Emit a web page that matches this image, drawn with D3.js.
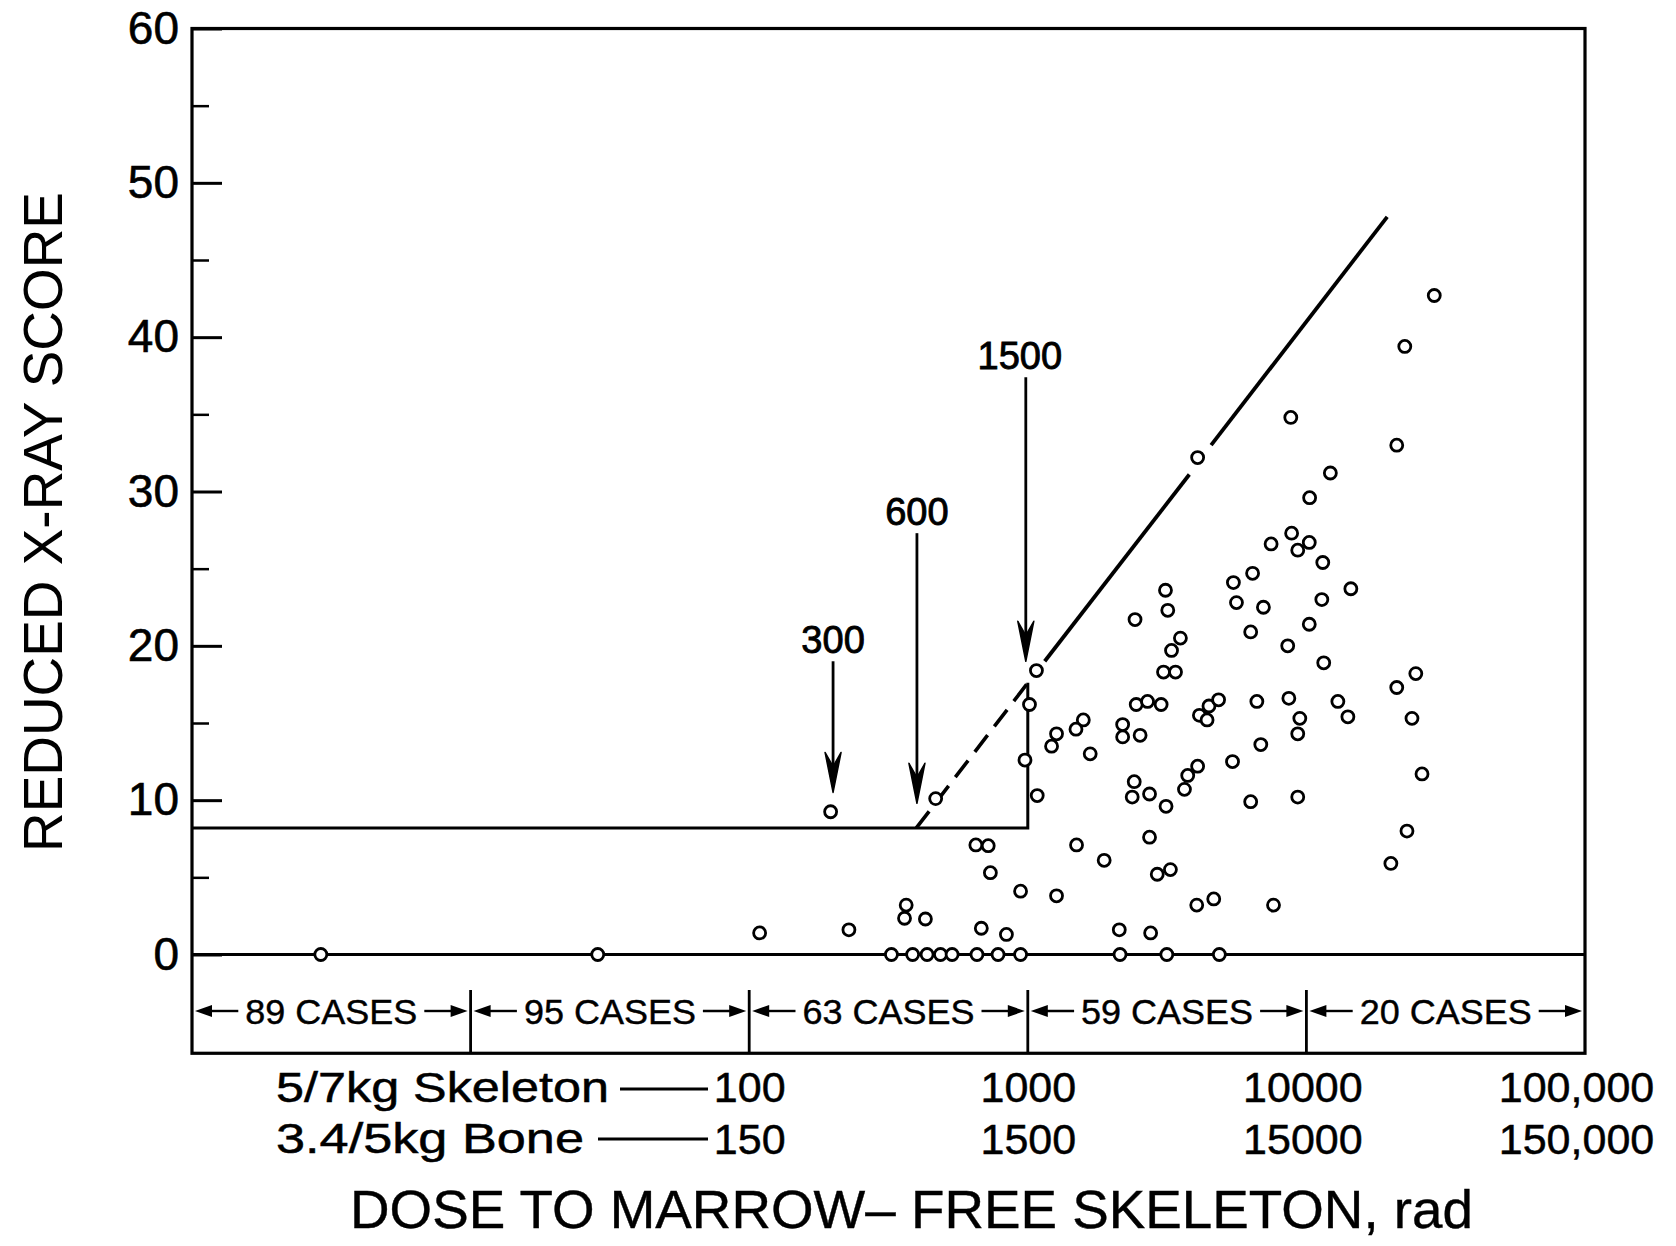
<!DOCTYPE html>
<html><head><meta charset="utf-8">
<script src="https://cdn.jsdelivr.net/npm/d3@7"></script>
<style>body{margin:0;background:#fff}</style>
</head><body>
<svg id="chart" width="1676" height="1246"></svg>
<script>
// ---------------- DATA ----------------
// dose to marrow-free skeleton (rad, 5/7 kg skeleton scale) and reduced X-ray score
const pointDose = [
  2.9, 28.6, 324, 386, 435, 486, 535, 657, 782, 942, 2143, 3155, 4870,
  109, 228, 196, 467, 366, 361, 429, 651, 721, 734, 942, 681, 838,
  977, 1014, 1074, 1081, 1268, 1217, 1582, 1489, 1675, 1268, 1496, 1880,
  2426, 3120, 3180, 3530, 3280, 3070, 3390, 2450, 2690, 3010, 2190, 2190, 2530,
  4130, 4470, 4840, 4400, 4070, 3750, 3650, 2410, 2370, 2735, 3135, 2735, 2915, 3250,
  4040, 4650, 2130, 2760, 4070,
  5470, 5610, 6410, 7010, 6310, 8790, 8850, 7470, 9310, 8570, 6640, 8650, 9470, 9310,
  6860, 5430, 6310, 9310, 7620,
  10240, 10270, 11450, 12190, 14440, 11360, 10240, 11540, 12970, 14090,
  28770, 22550, 21100, 24700, 21100, 23930, 26000, 22960, 20100
];
const pointScore = [
  0, 0, 0, 0, 0, 0, 0, 0, 0, 0, 0, 0, 0,
  1.4, 1.6, 9.25, 10.1, 3.2, 2.35, 2.3, 7.1, 7.05, 5.3, 4.1, 1.7, 1.3,
  12.6, 16.2, 18.4, 10.3, 14.3, 13.5, 15.2, 14.6, 13.0, 3.8, 7.1, 6.1,
  21.7, 23.6, 22.3, 20.5, 19.7, 18.3, 18.3, 16.2, 16.4, 16.2, 14.9, 14.1, 14.2,
  15.5, 16.1, 16.5, 15.2, 12.2, 11.6, 10.7, 11.2, 10.2, 10.4, 9.6, 7.6, 5.2, 5.5,
  3.2, 3.6, 1.6, 1.4, 32.2,
  24.1, 22.8, 24.7, 22.5, 20.9, 34.8, 27.3, 26.6, 26.2, 20.0, 16.4, 16.6, 15.3, 14.3,
  13.6, 12.5, 9.9, 10.2, 3.2,
  26.7, 29.6, 25.4, 31.2, 23.7, 23.0, 21.4, 18.9, 16.4, 15.4,
  42.7, 39.4, 33.0, 18.2, 17.3, 15.3, 11.7, 8.0, 5.9
];

// threshold (step) line
const stepDose = [1, 1000, 1000];
const stepScore = [8.2, 8.2, 17.6];

// fitted line: dashed part and solid parts
const dashedFitDose = [398, 1000];
const dashedFitScore = [8.2, 17.6];
const solidFitDose = [[1150, 3800], [4550, 19500]];
const solidFitScore = [[19.0, 31.1], [33.0, 47.8]];

// annotation arrows (labels in bone dose, placed at skeleton dose)
const arrowLabels = ["300", "600", "1500"];
const arrowDose = [200, 400, 1000];
const arrowTipScore = [10.5, 9.8, 19.0];
const arrowTopScore = [19.0, 27.3, 37.4];

// case groups
const caseLabels = ["89 CASES", "95 CASES", "63 CASES", "59 CASES", "20 CASES"];
const caseBounds = [1, 10, 100, 1000, 10000, 100000];

// axes
const yMajor = [0, 10, 20, 30, 40, 50, 60];
const yTickLabels = ["0", "10", "20", "30", "40", "50", "60"];
const yMinor = [5, 15, 25, 35, 45, 55];
const xTicks = [100, 1000, 10000, 100000];
const skeletonLabels = ["100", "1000", "10000", "100,000"];
const boneLabels = ["150", "1500", "15000", "150,000"];

// ---------------- DRAW ----------------
const FONT = "'Liberation Sans', Arial, Helvetica, sans-serif";
const svg = d3.select("#chart");
svg.append("rect").attr("width", 1676).attr("height", 1246).attr("fill", "#fff");

const x = d3.scaleLog().domain([1, 100000]).range([192, 1585]);
const y = d3.scaleLinear().domain([0, 60]).range([954.5, 28.5]);
const yBottom = -6.4;

// frame
svg.append("rect")
  .attr("x", x(1)).attr("y", y(60))
  .attr("width", x(100000) - x(1)).attr("height", y(yBottom) - y(60))
  .attr("fill", "none").attr("stroke", "#000").attr("stroke-width", 3.2);

// zero line
svg.append("line")
  .attr("x1", x(1)).attr("x2", x(100000)).attr("y1", y(0)).attr("y2", y(0))
  .attr("stroke", "#000").attr("stroke-width", 3);

// y axis (ticks pointing inward)
const gy = svg.append("g").attr("transform", `translate(${x(1)},0)`)
  .call(d3.axisLeft(y).tickValues(yMajor).tickSize(-30).tickPadding(13)
    .tickFormat((d, i) => yTickLabels[i]));
gy.select(".domain").remove();
gy.selectAll(".tick line").attr("stroke", "#000").attr("stroke-width", 3);
gy.selectAll(".tick text").attr("font-size", 46).attr("font-family", FONT).attr("fill", "#000")
  .attr("stroke", "#000").attr("stroke-width", 0.6);

const gym = svg.append("g").attr("transform", `translate(${x(1)},0)`)
  .call(d3.axisLeft(y).tickValues(yMinor).tickSize(-17).tickFormat(""));
gym.select(".domain").remove();
gym.selectAll(".tick line").attr("stroke", "#000").attr("stroke-width", 2.5);

// x labels: two rows
function xRow(labels, yPos) {
  const g = svg.append("g").attr("transform", `translate(0,${yPos})`)
    .call(d3.axisBottom(x).tickValues(xTicks).tickSize(0).tickPadding(0)
      .tickFormat((d, i) => labels[i]));
  g.select(".domain").remove();
  g.selectAll(".tick text").attr("font-size", 43).attr("font-family", FONT).attr("fill", "#000")
    .attr("stroke", "#000").attr("stroke-width", 0.5)
    .attr("dx", (d, i) => i === labels.length - 1 ? -9 : (i === 2 ? -4 : 0));
  return g;
}
xRow(skeletonLabels, 1071);
xRow(boneLabels, 1123);

svg.append("text").attr("x", 276).attr("y", 1102)
  .attr("font-size", 42).attr("font-family", FONT)
  .attr("stroke", "#000").attr("stroke-width", 0.5)
  .attr("textLength", 333).attr("lengthAdjust", "spacingAndGlyphs")
  .text("5/7kg Skeleton");
svg.append("text").attr("x", 276).attr("y", 1153)
  .attr("font-size", 42).attr("font-family", FONT)
  .attr("stroke", "#000").attr("stroke-width", 0.5)
  .attr("textLength", 308).attr("lengthAdjust", "spacingAndGlyphs")
  .text("3.4/5kg Bone");
svg.append("line").attr("x1", 620).attr("x2", 708).attr("y1", 1089).attr("y2", 1089)
  .attr("stroke", "#000").attr("stroke-width", 2.8);
svg.append("line").attr("x1", 598).attr("x2", 708).attr("y1", 1139).attr("y2", 1139)
  .attr("stroke", "#000").attr("stroke-width", 2.8);

// axis titles
svg.append("text").attr("x", 350).attr("y", 1228)
  .attr("font-size", 53).attr("font-family", FONT)
  .attr("stroke", "#000").attr("stroke-width", 0.4)
  .attr("textLength", 1123).attr("lengthAdjust", "spacingAndGlyphs")
  .text("DOSE TO MARROW– FREE SKELETON, rad");
svg.append("text")
  .attr("transform", `translate(62,852) rotate(-90)`)
  .attr("font-size", 55).attr("font-family", FONT)
  .attr("textLength", 660).attr("lengthAdjust", "spacingAndGlyphs")
  .text("REDUCED X-RAY SCORE");

// case band
const bandY = 1011;
for (let i = 1; i < caseBounds.length - 1; i++) {
  svg.append("line").attr("x1", x(caseBounds[i])).attr("x2", x(caseBounds[i]))
    .attr("y1", y(-2.3)).attr("y2", y(yBottom))
    .attr("stroke", "#000").attr("stroke-width", 2.8);
}
caseLabels.forEach((lab, i) => {
  const xa = x(caseBounds[i]), xb = x(caseBounds[i + 1]);
  const mid = (xa + xb) / 2;
  svg.append("text").attr("x", mid).attr("y", bandY).attr("dy", "0.36em")
    .attr("text-anchor", "middle").attr("font-size", 35).attr("font-family", FONT)
    .attr("stroke", "#000").attr("stroke-width", 0.4)
    .attr("textLength", 172).attr("lengthAdjust", "spacingAndGlyphs")
    .text(lab);
  const w = 172;
  const l1 = xa + 3, l2 = mid - w / 2 - 7, r1 = mid + w / 2 + 7, r2 = xb - 3;
  svg.append("line").attr("x1", l1 + 12).attr("x2", l2).attr("y1", bandY).attr("y2", bandY)
    .attr("stroke", "#000").attr("stroke-width", 2.4);
  svg.append("line").attr("x1", r1).attr("x2", r2 - 12).attr("y1", bandY).attr("y2", bandY)
    .attr("stroke", "#000").attr("stroke-width", 2.4);
  svg.append("path").attr("d", `M${l1},${bandY} L${l1 + 17},${bandY - 6} L${l1 + 17},${bandY + 6} Z`).attr("fill", "#000");
  svg.append("path").attr("d", `M${r2},${bandY} L${r2 - 17},${bandY - 6} L${r2 - 17},${bandY + 6} Z`).attr("fill", "#000");
});

// step (threshold) line
const line = d3.line().x(d => x(d[0])).y(d => y(d[1]));
svg.append("path").attr("d", line(stepDose.map((d, i) => [d, stepScore[i]])))
  .attr("fill", "none").attr("stroke", "#000").attr("stroke-width", 3);

// fitted line
svg.append("path").attr("d", line(dashedFitDose.map((d, i) => [d, dashedFitScore[i]])))
  .attr("fill", "none").attr("stroke", "#000").attr("stroke-width", 3.6)
  .attr("stroke-dasharray", "21,11");
solidFitDose.forEach((seg, s) => {
  svg.append("path").attr("d", line(seg.map((d, i) => [d, solidFitScore[s][i]])))
    .attr("fill", "none").attr("stroke", "#000").attr("stroke-width", 3.8);
});

// annotation arrows
arrowLabels.forEach((lab, i) => {
  const xi = x(arrowDose[i]) - (i === 2 ? 2 : 0);
  const yt = y(arrowTipScore[i]);
  const y0 = y(arrowTopScore[i]);
  svg.append("line").attr("x1", xi).attr("x2", xi).attr("y1", y0).attr("y2", yt - 20)
    .attr("stroke", "#000").attr("stroke-width", 2.8);
  svg.append("path")
    .attr("d", `M${xi},${yt} L${xi - 8},${yt - 40} L${xi},${yt - 26} L${xi + 8},${yt - 40} Z`)
    .attr("fill", "#000").attr("stroke", "#000").attr("stroke-width", 1.5).attr("stroke-linejoin", "round");
  svg.append("text").attr("x", xi - (i === 2 ? 6 : 0)).attr("y", y0 - 8)
    .attr("text-anchor", "middle").attr("font-size", 38).attr("font-family", FONT)
    .attr("stroke", "#000").attr("stroke-width", 0.9)
    .text(lab);
});

// points
svg.append("g").selectAll("circle")
  .data(pointDose.map((d, i) => [d, pointScore[i]]))
  .join("circle")
  .attr("cx", d => x(d[0])).attr("cy", d => y(d[1])).attr("r", 6)
  .attr("fill", "#fff").attr("stroke", "#000").attr("stroke-width", 2.8);
</script>
</body></html>
